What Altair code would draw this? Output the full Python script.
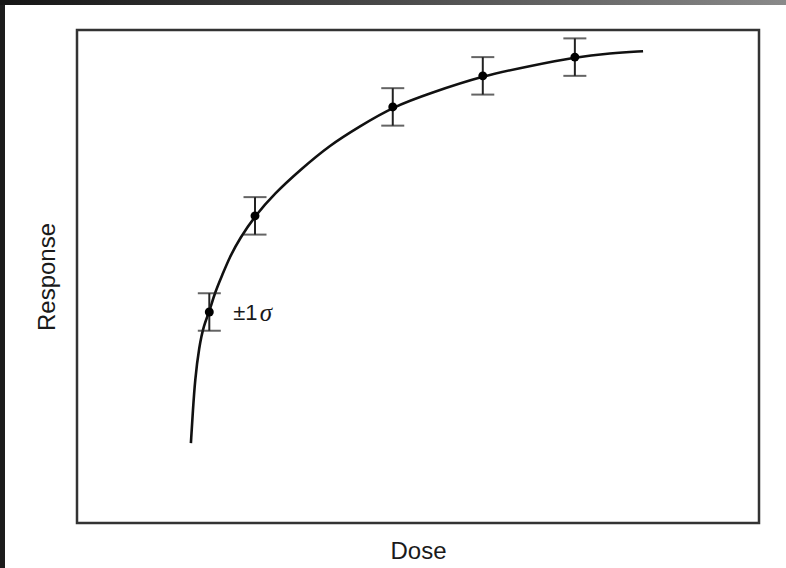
import altair as alt
import pandas as pd

# Measured data points (dose, mean response) and their 1-sigma half widths
dose_pts = [1.94, 2.61, 4.63, 5.95, 7.30]
resp_pts = [4.28, 6.23, 8.44, 9.07, 9.45]
sigma_pts = [0.38, 0.38, 0.38, 0.38, 0.38]

# Fitted curve
curve_dose = [1.67, 1.70, 1.73, 1.79, 1.86, 1.94, 2.02, 2.13, 2.24, 2.39, 2.61,
              2.90, 3.27, 3.71, 4.15, 4.63, 5.18, 5.95, 6.64, 7.30, 7.82, 8.30]
curve_resp = [1.62, 2.29, 2.90, 3.57, 4.02, 4.28, 4.67, 5.03, 5.40, 5.78, 6.23,
              6.69, 7.16, 7.67, 8.05, 8.44, 8.72, 9.07, 9.27, 9.45, 9.53, 9.57]

# annotation "±1σ" (σ set in italic)
label_main = ["\u00b11"]
label_main_dose = [2.29]
label_sigma = ["\u03c3"]
label_sigma_dose = [2.68]
label_resp = [4.25]

pts = pd.DataFrame({"dose": dose_pts, "resp": resp_pts, "sigma": sigma_pts})
pts["lo"] = pts["resp"] - pts["sigma"]
pts["hi"] = pts["resp"] + pts["sigma"]
curve = pd.DataFrame({"dose": curve_dose, "resp": curve_resp})
lab1 = pd.DataFrame({"dose": label_main_dose, "resp": label_resp, "t": label_main})
lab2 = pd.DataFrame({"dose": label_sigma_dose, "resp": label_resp, "t": label_sigma})

xs = alt.Scale(domain=[0, 10], nice=False, zero=False)
ys = alt.Scale(domain=[0, 10], nice=False, zero=False)

FONT = "Liberation Sans"

xax = alt.Axis(title="Dose", labels=False, ticks=False, domain=False, grid=False,
               titleFontSize=24, titleFont=FONT, titleFontWeight="normal",
               titleColor="#1a1a1a", titlePadding=16)
yax = alt.Axis(title="Response", labels=False, ticks=False, domain=False, grid=False,
               titleFontSize=24, titleFont=FONT, titleFontWeight="normal",
               titleColor="#1a1a1a", titlePadding=18)

line = alt.Chart(curve).mark_line(color="#111111", strokeWidth=2.6, interpolate="basis").encode(
    x=alt.X("dose:Q", scale=xs, axis=xax),
    y=alt.Y("resp:Q", scale=ys, axis=yax),
)

rules = alt.Chart(pts).mark_rule(color="#222222", strokeWidth=2).encode(
    x="dose:Q", y="lo:Q", y2="hi:Q"
)
cap_lo = alt.Chart(pts).mark_tick(color="#222222", thickness=2, size=23, orient="horizontal").encode(
    x="dose:Q", y="lo:Q"
)
cap_hi = alt.Chart(pts).mark_tick(color="#222222", thickness=2, size=23, orient="horizontal").encode(
    x="dose:Q", y="hi:Q"
)
dots = alt.Chart(pts).mark_circle(color="#000000", opacity=1, size=80).encode(
    x="dose:Q", y="resp:Q"
)
text1 = alt.Chart(lab1).mark_text(align="left", baseline="middle", font=FONT, fontSize=22,
                                  color="#1a1a1a").encode(
    x="dose:Q", y="resp:Q", text="t:N"
)
text2 = alt.Chart(lab2).mark_text(align="left", baseline="middle", font="Liberation Serif",
                                  fontStyle="italic", fontSize=25, color="#1a1a1a").encode(
    x="dose:Q", y="resp:Q", text="t:N"
)

# screenshot border strips (decoration)
border_left = alt.Chart(pd.DataFrame({"k": [0]})).mark_rect(color="#1c1c1c", clip=False).encode(
    x=alt.value(-77), x2=alt.value(-72), y=alt.value(-30), y2=alt.value(538)
)
border_top = alt.Chart(pd.DataFrame({"k": [0]})).mark_rect(
    clip=False,
    color=alt.Gradient(gradient="linear", x1=0, x2=1, y1=0, y2=0,
                       stops=[alt.GradientStop(color="#151515", offset=0),
                              alt.GradientStop(color="#4a4a4a", offset=0.5),
                              alt.GradientStop(color="#8a8a8a", offset=1)]),
).encode(
    x=alt.value(-77), x2=alt.value(709), y=alt.value(-30), y2=alt.value(-25)
)

chart = alt.layer(line, rules, cap_lo, cap_hi, dots, text1, text2, border_left, border_top).properties(
    width=682, height=493,
    autosize=alt.AutoSizeParams(type="none"),
    padding={"left": 77, "top": 30, "right": 27, "bottom": 45},
    background="white",
).configure_view(stroke="#333333", strokeWidth=2.5)

chart.save("out.html", embed_options={"renderer": "svg", "actions": False})
